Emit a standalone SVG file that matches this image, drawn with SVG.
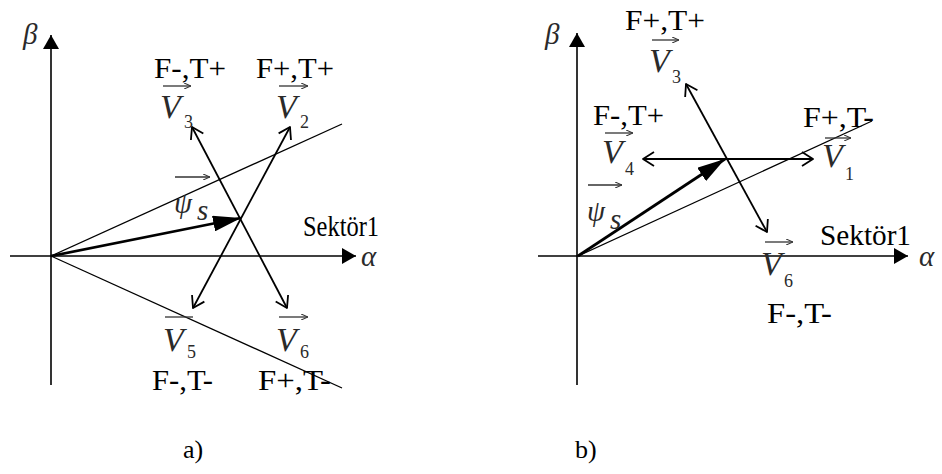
<svg xmlns="http://www.w3.org/2000/svg" width="942" height="474" viewBox="0 0 942 474">
<style>
.ln{stroke:#000;fill:none;stroke-linecap:butt}
.ax{stroke-width:1.6}
.sec{stroke-width:1.3}
.vec{stroke-width:1.8}
.psi{stroke-width:2.8}
.bar{stroke:#333;stroke-width:1.3;fill:none}
text{font-family:'Liberation Serif','DejaVu Serif',serif}
.t{font-size:29px;fill:#000}
.v{font-style:italic;font-size:34px;fill:#2a2a2a}
.sub{font-size:18px;fill:#2a2a2a}
.g{font-style:italic;font-size:29px;fill:#2a2a2a}
.cap{font-size:26px;fill:#000}
</style>
<defs>
<marker id="open" viewBox="0 0 13 16" refX="12" refY="8" markerWidth="13" markerHeight="16" markerUnits="userSpaceOnUse" orient="auto-start-reverse">
<path d="M1,1 L12,8 L1,15" fill="none" stroke="#000" stroke-width="1.8" stroke-linejoin="round"/>
</marker>
<marker id="fill" viewBox="0 0 14 16" refX="14" refY="8" markerWidth="14" markerHeight="16" markerUnits="userSpaceOnUse" orient="auto">
<path d="M0,0 L14,8 L0,16 Z" fill="#000"/>
</marker>
<marker id="big" viewBox="0 0 28 16" refX="28" refY="8" markerWidth="28" markerHeight="16" markerUnits="userSpaceOnUse" orient="auto">
<path d="M0,0 L28,8 L0,16 Z" fill="#000"/>
</marker>
<marker id="sm" viewBox="0 0 7 6" refX="7" refY="3" markerWidth="7" markerHeight="6" markerUnits="userSpaceOnUse" orient="auto">
<path d="M0,0 L7,3 L0,6" fill="none" stroke="#333" stroke-width="1.1"/>
</marker>
</defs>

<g id="connectors">
<line class="ln ax" x1="51" y1="385" x2="51" y2="35" marker-end="url(#fill)"/>
<line class="ln ax" x1="10" y1="256" x2="356" y2="256" marker-end="url(#fill)"/>
<line class="ln sec" x1="51" y1="256" x2="342" y2="124"/>
<line class="ln sec" x1="51" y1="256" x2="342" y2="388"/>
<line class="ln psi" x1="51" y1="256" x2="241" y2="218" marker-end="url(#big)"/>
<line class="ln vec" x1="193" y1="308" x2="290" y2="127" marker-start="url(#open)" marker-end="url(#open)"/>
<line class="ln vec" x1="192" y1="127" x2="287" y2="308" marker-start="url(#open)" marker-end="url(#open)"/>
<line class="ln ax" x1="577" y1="385" x2="577" y2="33" marker-end="url(#fill)"/>
<line class="ln ax" x1="538" y1="256" x2="908" y2="256" marker-end="url(#fill)"/>
<line class="ln sec" x1="578" y1="256" x2="872" y2="121"/>
<line class="ln psi" x1="578" y1="256" x2="725" y2="159" marker-end="url(#big)"/>
<line class="ln vec" x1="643" y1="159" x2="813" y2="159" marker-start="url(#open)" marker-end="url(#open)"/>
<line class="ln vec" x1="686" y1="84" x2="767" y2="232" marker-start="url(#open)" marker-end="url(#open)"/>
</g>

<g id="axis-labels">
<text class="g" x="23" y="44">β</text>
<text class="g" x="361" y="266">α</text>
<text class="g" x="545" y="44">β</text>
<text class="g" x="919" y="266">α</text>
</g>

<g id="a-V3">
<text class="t" x="154" y="78" textLength="72" lengthAdjust="spacingAndGlyphs">F-,T+</text>
<line class="bar" x1="163" y1="86" x2="191" y2="86" marker-end="url(#sm)"/>
<text class="v" x="160" y="118">V</text><text class="sub" x="184" y="128">3</text>
</g>
<g id="a-V2">
<text class="t" x="256" y="78" textLength="78" lengthAdjust="spacingAndGlyphs">F+,T+</text>
<line class="bar" x1="279" y1="86" x2="308" y2="86" marker-end="url(#sm)"/>
<text class="v" x="276" y="118">V</text><text class="sub" x="300" y="128">2</text>
</g>
<g id="a-psi">
<line class="bar" x1="175" y1="177" x2="210" y2="177" marker-end="url(#sm)"/>
<text class="g" x="174" y="213" font-size="31">ψ</text><text class="g" x="197" y="220" font-size="20">s</text>
</g>
<g id="a-sector">
<text class="t" x="303" y="236" textLength="76" lengthAdjust="spacingAndGlyphs">Sektör1</text>
</g>
<g id="a-V5">
<line class="bar" x1="165" y1="317" x2="193" y2="317"/>
<text class="v" x="163" y="351">V</text><text class="sub" x="187" y="358" font-size="17">5</text>
<text class="t" x="152" y="390" textLength="61" lengthAdjust="spacingAndGlyphs">F-,T-</text>
</g>
<g id="a-V6">
<line class="bar" x1="279" y1="317" x2="308" y2="317" marker-end="url(#sm)"/>
<text class="v" x="276" y="351">V</text><text class="sub" x="300" y="358" font-size="17">6</text>
<text class="t" x="258" y="390" textLength="73" lengthAdjust="spacingAndGlyphs">F+,T-</text>
</g>

<g id="b-V3">
<text class="t" x="625" y="30" textLength="80" lengthAdjust="spacingAndGlyphs">F+,T+</text>
<line class="bar" x1="652" y1="40" x2="679" y2="40" marker-end="url(#sm)"/>
<text class="v" x="649" y="72">V</text><text class="sub" x="672" y="83">3</text>
</g>
<g id="b-V4">
<text class="t" x="593" y="125" textLength="71" lengthAdjust="spacingAndGlyphs">F-,T+</text>
<line class="bar" x1="605" y1="133" x2="633" y2="133" marker-end="url(#sm)"/>
<text class="v" x="602" y="163">V</text><text class="sub" x="625" y="175">4</text>
</g>
<g id="b-V1">
<text class="t" x="803" y="127" textLength="71" lengthAdjust="spacingAndGlyphs">F+,T-</text>
<line class="bar" x1="825" y1="138" x2="851" y2="138" marker-end="url(#sm)"/>
<text class="v" x="822" y="167">V</text><text class="sub" x="845" y="180">1</text>
</g>
<g id="b-psi">
<line class="bar" x1="588" y1="185" x2="622" y2="185" marker-end="url(#sm)"/>
<text class="g" x="587" y="221" font-size="31">ψ</text><text class="g" x="610" y="229" font-size="20">s</text>
</g>
<g id="b-sector">
<text class="t" x="820" y="245" textLength="91" lengthAdjust="spacingAndGlyphs">Sektör1</text>
</g>
<g id="b-V6">
<line class="bar" x1="765" y1="242" x2="793" y2="242" marker-end="url(#sm)"/>
<text class="v" x="761" y="275">V</text><text class="sub" x="784" y="287">6</text>
<text class="t" x="767" y="323" textLength="65" lengthAdjust="spacingAndGlyphs">F-,T-</text>
</g>

<g id="captions">
<text class="cap" x="183" y="458">a)</text>
<text class="cap" x="575" y="458">b)</text>
</g>
</svg>
